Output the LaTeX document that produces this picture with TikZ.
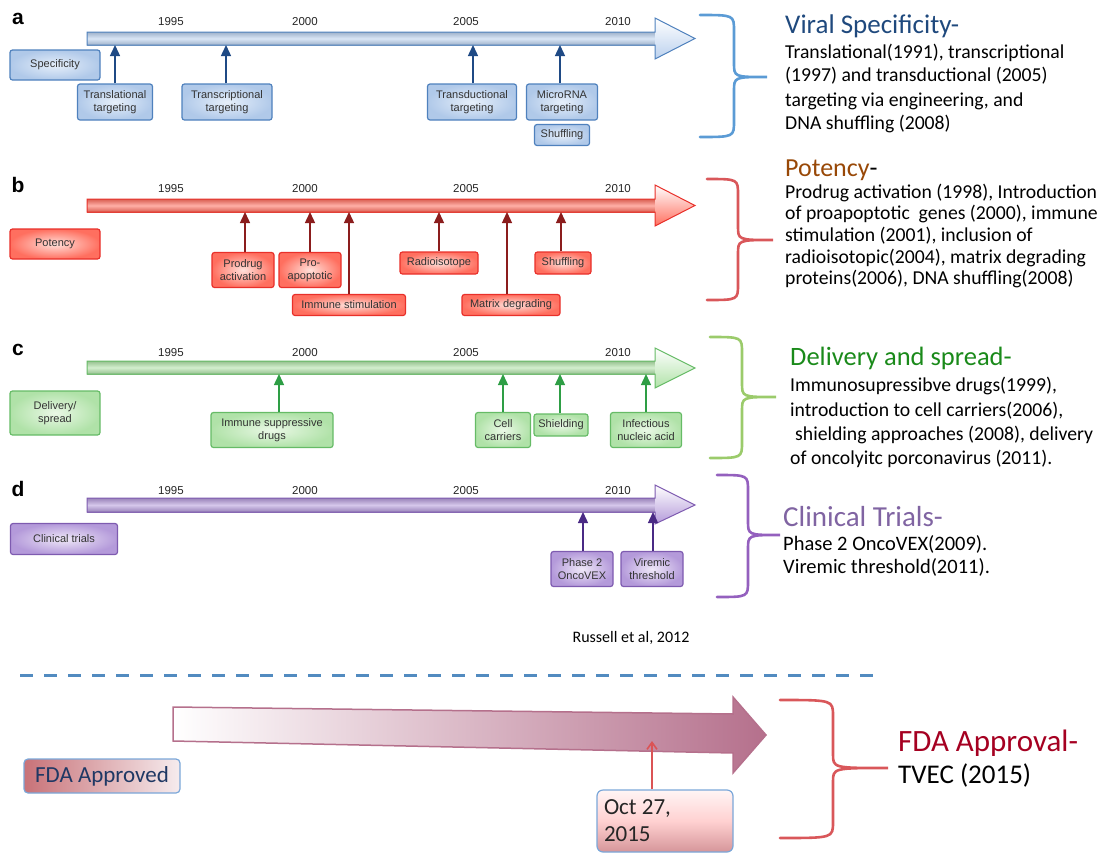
\documentclass[tikz,border=0pt]{standalone}
\usepackage{fontspec}
\setmainfont{Carlito}
\newfontfamily\hv{Liberation Sans}
\usetikzlibrary{arrows.meta}
\definecolor{bO}{HTML}{4F81BD}\definecolor{bF}{HTML}{BBD1EE}\definecolor{bC}{HTML}{1F4A85}\definecolor{bI}{HTML}{E6EFFA}
\definecolor{rO}{HTML}{E8302A}\definecolor{rF}{HTML}{FF6F5F}\definecolor{rC}{HTML}{8B1D1D}\definecolor{rI}{HTML}{FFE0DA}
\definecolor{gO}{HTML}{66BB66}\definecolor{gF}{HTML}{B0E2A8}\definecolor{gC}{HTML}{2E9E45}\definecolor{gI}{HTML}{EAF8E6}
\definecolor{pO}{HTML}{7E5BB0}\definecolor{pF}{HTML}{B49ADA}\definecolor{pC}{HTML}{4A2A85}\definecolor{pI}{HTML}{EFE8F8}
\definecolor{braceB}{HTML}{5B9BD5}\definecolor{braceR}{HTML}{D9575A}\definecolor{braceG}{HTML}{9BCB6B}\definecolor{braceP}{HTML}{9460BE}
\definecolor{tB}{HTML}{1F497D}\definecolor{tR}{HTML}{984807}\definecolor{tG}{HTML}{1A8A1A}\definecolor{tP}{HTML}{8064A2}\definecolor{tF}{HTML}{A50021}
\definecolor{mauve}{HTML}{B5708C}\definecolor{navy}{HTML}{1F3864}\definecolor{lblue}{HTML}{7BA7D9}
\definecolor{fdaL}{HTML}{C87278}\definecolor{fdaR}{HTML}{F6ECEE}
\newcommand{\tline}[8]{%
  \shade[top color=#2!85!black, bottom color=#2!85!black, middle color=white!45!#2] (87,#3) rectangle (655,#4);
  \shade[top color=white, bottom color=#2] (655,#5) -- (695,#6) -- (655,#7) -- cycle;
  \draw[#1, line width=1pt, line join=miter] (87,#3) -- (655,#3) -- (655,#5) -- (695,#6) -- (655,#7) -- (655,#4) -- (87,#4) -- cycle;
  \node[year] at (171,#8) {1995};
  \node[year] at (305,#8) {2000};
  \node[year] at (466,#8) {2005};
  \node[year] at (618,#8) {2010};
}
\newcommand{\curly}[8]{%
  \draw[#1, line width=2.6pt, line cap=round] (#2,#5) .. controls (#3,#5) .. (#3,#5+16) -- (#3,#6-14) .. controls (#3,#6) .. (#4,#6) .. controls (#3,#6) .. (#3,#6+14) -- (#3,#7-16) .. controls (#3,#7) .. (#2,#7);
}
\begin{document}
\begin{tikzpicture}[x=1pt,y=-1pt,
  year/.style={font=\hv\fontsize{11.5}{12}\selectfont, text=black!85},
  letter/.style={font=\hv\bfseries\fontsize{21}{22}\selectfont},
  tbox/.style={rounded corners=2.5pt, draw, line width=1.2pt, align=center, inner sep=1pt,
    font=\hv\fontsize{11}{13}\selectfont, text=black!80},
  abox/.style={tbox, draw=bO, inner color=bI, outer color=bF!90!bO},
  rbox/.style={tbox, draw=rO, inner color=rI, outer color=rF},
  gbox/.style={tbox, draw=gO, inner color=gI, outer color=gF},
  pbox/.style={tbox, draw=pO, inner color=pI, outer color=pF},
  conn/.style={line width=1.4pt, -{Triangle[width=10pt,length=11pt]}},
  body/.style={anchor=base west, inner sep=0pt, font=\fontsize{19.7}{22}\selectfont},
  ttl/.style={anchor=base west, inner sep=0pt, font=\fontsize{27}{29}\selectfont}]
\useasboundingbox (0,0) rectangle (1109,852);

% ---------------- panel a
\node[letter] (la) at (18,19) {a};
\tline{bO}{bF}{32}{45}{18}{38.5}{59}{22}
\node[abox, minimum width=90, minimum height=30] (spec) at (55,65) {Specificity};
\node[abox, minimum width=75, minimum height=36] (ta1) at (115,102) {Translational\\targeting};
\node[abox, minimum width=90, minimum height=36] (ta2) at (227,102) {Transcriptional\\targeting};
\node[abox, minimum width=89, minimum height=36] (ta3) at (472,102) {Transductional\\targeting};
\node[abox, minimum width=71, minimum height=36] (ta4) at (562,102) {MicroRNA\\targeting};
\node[abox, minimum width=55, minimum height=21] (ta5) at (562,135) {Shuffling};
\coordinate (A1) at (115,45); \coordinate (A2) at (226,45); \coordinate (A3) at (473,45); \coordinate (A4) at (560,45);
\draw[conn, bC] (ta1.north -| A1) -- (A1);
\draw[conn, bC] (ta2.north -| A2) -- (A2);
\draw[conn, bC] (ta3.north -| A3) -- (A3);
\draw[conn, bC] (ta4.north -| A4) -- (A4);
\curly{braceB}{700}{734}{767}{15}{77}{137}{}

\node[ttl, text=tB] (tia) at (785,33) {Viral Specificity-};
\node[body] (ba1) at (785,58) {Translational(1991), transcriptional};
\node[body] (ba2) at (785,81) {(1997) and transductional (2005)};
\node[body] (ba3) at (785,106) {targeting via engineering, and};
\node[body] (ba4) at (785,129) {DNA shuffling (2008)};

% ---------------- panel b
\node[letter] (lb) at (18,185) {b};
\tline{rO}{rF}{199}{212}{185}{205.5}{226}{189}
\node[rbox, minimum width=90, minimum height=30] (pot) at (55,244) {Potency};
\node[rbox, minimum width=62, minimum height=35] (tb1) at (243,270) {Prodrug\\activation};
\node[rbox, minimum width=62, minimum height=35] (tb2) at (310,270) {Pro-\\apoptotic};
\node[rbox, minimum width=113, minimum height=21] (tb3) at (349,305) {Immune stimulation};
\node[rbox, minimum width=78, minimum height=22] (tb4) at (439,263) {Radioisotope};
\node[rbox, minimum width=98, minimum height=21] (tb5) at (511,305) {Matrix degrading};
\node[rbox, minimum width=56, minimum height=22] (tb6) at (563,263) {Shuffling};
\coordinate (B1) at (245,212); \coordinate (B2) at (310,212); \coordinate (B3) at (349,212);
\coordinate (B4) at (439,212); \coordinate (B5) at (507,212); \coordinate (B6) at (561,212);
\draw[conn, rC] (tb1.north -| B1) -- (B1);
\draw[conn, rC] (tb2.north -| B2) -- (B2);
\draw[conn, rC] (tb3.north -| B3) -- (B3);
\draw[conn, rC] (tb4.north -| B4) -- (B4);
\draw[conn, rC] (tb5.north -| B5) -- (B5);
\draw[conn, rC] (tb6.north -| B6) -- (B6);
\curly{braceR}{707}{738}{773}{179}{240}{300}{}

\node[ttl, font=\fontsize{26}{28}\selectfont] (tib) at (785,176) {\textcolor{tR}{Potency}-};
\node[body] (bb1) at (785,198) {Prodrug activation (1998), Introduction};
\node[body] (bb2) at (785,219) {of proapoptotic\ \ genes (2000), immune};
\node[body] (bb3) at (785,241) {stimulation (2001), inclusion of};
\node[body] (bb4) at (785,263) {radioisotopic(2004), matrix degrading};
\node[body] (bb5) at (785,284) {proteins(2006), DNA shuffling(2008)};

% ---------------- panel c
\node[letter] (lc) at (18,350) {c};
\tline{gO}{gF}{361}{374}{348}{368}{388}{353}
\node[gbox, minimum width=90, minimum height=44] (del) at (55,413) {Delivery/\\spread};
\node[gbox, minimum width=122, minimum height=35] (tc1) at (272,430) {Immune suppressive\\drugs};
\node[gbox, minimum width=55, minimum height=35] (tc2) at (503,430) {Cell\\carriers};
\node[gbox, minimum width=54, minimum height=22] (tc3) at (561,425) {Shielding};
\node[gbox, minimum width=71, minimum height=35] (tc4) at (646,430) {Infectious\\nucleic acid};
\coordinate (C1) at (279,374); \coordinate (C2) at (503,374); \coordinate (C3) at (560,374); \coordinate (C4) at (646,374);
\draw[conn, gC] (tc1.north -| C1) -- (C1);
\draw[conn, gC] (tc2.north -| C2) -- (C2);
\draw[conn, gC] (tc3.north -| C3) -- (C3);
\draw[conn, gC] (tc4.north -| C4) -- (C4);
\curly{braceG}{710}{742}{776}{337}{397}{458}{}

\node[ttl, text=tG, font=\fontsize{26.5}{28}\selectfont] (tic) at (790,365) {Delivery and spread-};
\node[body] (bc1) at (790,391) {Immunosupressibve drugs(1999),};
\node[body] (bc2) at (790,416) {introduction to cell carriers(2006),};
\node[body] (bc3) at (795,440) {shielding approaches (2008), delivery};
\node[body] (bc4) at (790,464) {of oncolyitc porconavirus (2011).};

% ---------------- panel d
\node[letter] (ld) at (18,489) {d};
\tline{pO}{pF}{498}{512}{485}{505}{524}{491}
\node[pbox, minimum width=107, minimum height=31] (cli) at (64,539) {Clinical trials};
\node[pbox, minimum width=62, minimum height=35] (td1) at (582,569) {Phase 2\\OncoVEX};
\node[pbox, minimum width=62, minimum height=35] (td2) at (652,569) {Viremic\\threshold};
\coordinate (D1) at (583,512); \coordinate (D2) at (653,512);
\draw[conn, pC] (td1.north -| D1) -- (D1);
\draw[conn, pC] (td2.north -| D2) -- (D2);
\curly{braceP}{717}{748}{780}{475}{535}{597}{}

\node[ttl, text=tP, font=\fontsize{29}{31}\selectfont] (tid) at (783,526) {Clinical Trials-};
\node[body, font=\fontsize{20.5}{22}\selectfont] (bd1) at (783,550) {Phase 2 OncoVEX(2009).};
\node[body, font=\fontsize{20.5}{22}\selectfont] (bd2) at (783,573) {Viremic threshold(2011).};

\node[font=\fontsize{16}{18}\selectfont] (cite) at (631,638) {Russell et al, 2012};

% ---------------- bottom
\draw[braceB!90!black, line width=3pt, dash pattern=on 13pt off 11pt] (20,675) -- (882,675);

\shade[left color=white, right color=mauve] (173,707) -- (733,714) -- (733,697) -- (766,735) -- (733,773) -- (733,753) -- (173,741) -- cycle;
\draw[mauve, line width=1.5pt, line join=miter] (173,707) -- (733,714) -- (733,697) -- (766,735) -- (733,773) -- (733,753) -- (173,741) -- cycle;

\node[rounded corners=4pt, draw=lblue, line width=1.2pt, left color=fdaL, right color=fdaR,
  minimum width=156, minimum height=34, inner sep=2pt, text=navy, font=\fontsize{23}{25}\selectfont] (fda) at (102,776) {FDA Approved};

\node[rounded corners=6pt, draw=lblue, line width=1.2pt, top color=white!96!red, bottom color=fdaL!75!white, middle color=white!82!red,
  minimum width=136, minimum height=62, align=flush left, inner sep=4pt, text=black!85, font=\fontsize{23}{27}\selectfont,
  text width=122] (oct) at (665,821) {Oct 27,\\2015};
\coordinate (O1) at (652,741);
\draw[braceR!95!red, line width=1.6pt, -{Straight Barb[width=10pt,length=7pt]}] (oct.north -| O1) -- (O1);

\curly{braceR}{780}{833}{888}{700}{768}{838}{}
\node[anchor=base west, inner sep=0pt, text=tF, font=\fontsize{31}{33}\selectfont] (tif) at (898,751) {FDA Approval-};
\node[anchor=base west, inner sep=0pt, font=\fontsize{27}{29}\selectfont] (tvec) at (898,783) {TVEC (2015)};
\end{tikzpicture}
\end{document}
